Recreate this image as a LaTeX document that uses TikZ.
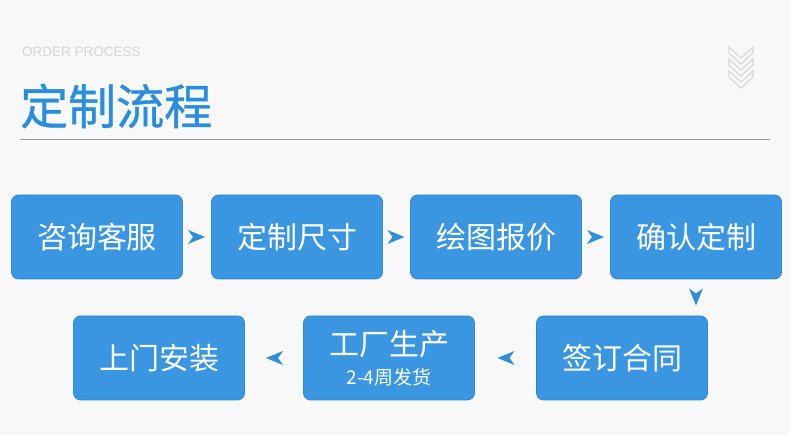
\documentclass[tikz,border=0pt]{standalone}
\usepackage{fontspec}
\newfontfamily\cjk{Noto Sans CJK SC}
\newfontfamily\cjkb[FakeBold=0.8]{Noto Sans CJK SC}
\newfontfamily\lat{Liberation Sans}
\definecolor{bg}{HTML}{F8F8F8}
\definecolor{boxblue}{HTML}{3A96E0}
\definecolor{boxedge}{HTML}{2F88D6}
\definecolor{titleblue}{HTML}{2A8EE0}
\definecolor{arrowblue}{HTML}{2F8FDF}
\definecolor{lightgray}{HTML}{D6D6D6}
\definecolor{rulegray}{HTML}{9A9A9A}
\begin{document}
\begin{tikzpicture}[x=1pt,y=-1pt,
  stepbox/.style={draw=boxedge,line width=0.8pt,fill=boxblue,rounded corners=7pt,minimum width=171pt,minimum height=84pt,inner sep=0pt,text=white,font=\cjk\fontsize{30}{33}\selectfont,align=center},
  nav/.style={fill=arrowblue,draw=none}]
\fill[bg] (0,0) rectangle (790,435);
\useasboundingbox (0,0) rectangle (790,435);
% header
\node[anchor=west,inner sep=0pt,text=lightgray,font=\lat\fontsize{13.5}{14}\selectfont] (eng) at (22,52) {ORDER PROCESS};
\node[anchor=west,inner sep=0pt,text=titleblue,font=\cjkb\fontsize{48}{50}\selectfont] (title) at (20,106) {定制流程};
\draw[rulegray,line width=1pt] (20,140) -- (770,140);
% chevron icon
\begin{scope}[draw=lightgray,line width=1.1pt,line join=miter]
\foreach \dy in {0,12,24}{
  \draw (729,47+\dy) -- (741,58+\dy) -- (753,47+\dy) -- (753,53+\dy) -- (741,64+\dy) -- (729,53+\dy) -- cycle;
}
\end{scope}
% boxes
\node[stepbox] (b1) at (97,237) {咨询客服};
\node[stepbox] (b2) at (297,237) {定制尺寸};
\node[stepbox] (b3) at (496,237) {绘图报价};
\node[stepbox] (b4) at (696,237) {确认定制};
\node[stepbox] (b5) at (622,358) {签订合同};
\node[stepbox] (b6) at (389,358) {\raisebox{3pt}{工厂生产}\\[-7pt]{\fontsize{19}{21}\selectfont 2-4周发货}};
\node[stepbox] (b7) at (159,358) {上门安装};
% arrows
\foreach \a/\b in {b1/b2,b2/b3,b3/b4}{
  \path (\a.east) -- (\b.west) coordinate[pos=0.5] (m\a);
  \fill[nav] ([xshift=-9pt,yshift=-7pt]m\a) -- ([xshift=8pt]m\a) -- ([xshift=-9pt,yshift=7pt]m\a) -- ([xshift=-4pt]m\a) -- cycle;
}
\path (b4.south) -- (b5.north -| b4.south) coordinate[pos=0.5] (mb4);
\fill[nav] ([xshift=-7pt,yshift=9pt]mb4) -- ([yshift=-8pt]mb4) -- ([xshift=7pt,yshift=9pt]mb4) -- ([yshift=4pt]mb4) -- cycle;
\foreach \a/\b in {b5/b6,b6/b7}{
  \path (\a.west) -- (\b.east) coordinate[pos=0.5] (m\a);
  \fill[nav] ([xshift=9pt,yshift=-7pt]m\a) -- ([xshift=-8pt]m\a) -- ([xshift=9pt,yshift=7pt]m\a) -- ([xshift=4pt]m\a) -- cycle;
}
\end{tikzpicture}
\end{document}
